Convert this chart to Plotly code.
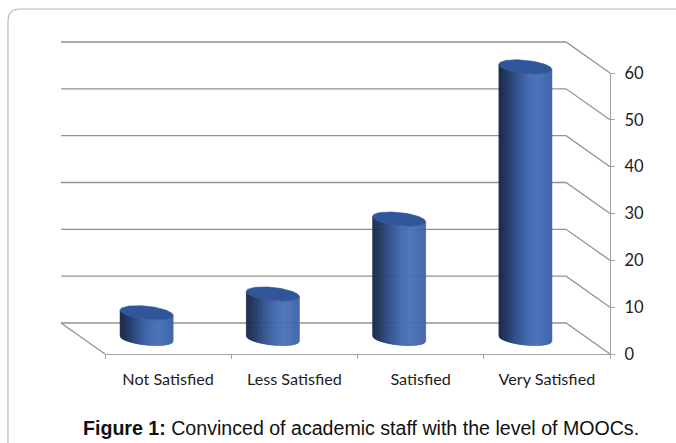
import math
import plotly.graph_objects as go

categories = ["Not Satisfied", "Less Satisfied", "Satisfied", "Very Satisfied"]
values = [5.5, 9.5, 25.5, 58]
y_ticks = [0, 10, 20, 30, 40, 50, 60]

W, H = 676, 443
LEFT, RIGHT, ZERO, TOP = 105, 610, 354, 73   # axis box within the picture
n = len(categories)
PX_X = (RIGHT - LEFT) / n      # pixels per category
PX_Y = (ZERO - TOP) / 60       # pixels per value unit
DEPTH_X = 44 / PX_X
DEPTH_Y = 31 / PX_Y
RX = 26.5 / PX_X
RY = 6.6 / PX_Y
TILT = 2.6 / PX_Y
NUDGE = 0.5 / PX_X
GRID = "#939393"
AXIS = "#a3a3a3"
N_STRIPS = 53

STOPS = [(0.0, (24, 40, 72)), (0.12, (30, 50, 90)), (0.3, (44, 76, 132)),
         (0.55, (66, 105, 176)), (0.72, (74, 114, 186)), (1.0, (62, 100, 168))]


def shade(t):
    for (a, ca), (b, cb) in zip(STOPS, STOPS[1:]):
        if t <= b:
            f = (t - a) / (b - a)
            return "rgb(%d,%d,%d)" % tuple(round(p + (q - p) * f) for p, q in zip(ca, cb))
    return "rgb(%d,%d,%d)" % STOPS[-1][1]


fig = go.Figure()


def line(xs, ys, color=GRID, width=1.3):
    fig.add_trace(go.Scatter(x=xs, y=ys, mode="lines", hoverinfo="skip",
                             line=dict(color=color, width=width), showlegend=False))


# Back wall gridlines and their diagonals to the front axis
for v in y_ticks:
    line([-DEPTH_X, n - DEPTH_X, n], [v + DEPTH_Y, v + DEPTH_Y, v])
line([-DEPTH_X, 0], [DEPTH_Y, 0])


def edge(center, level, u):
    """Front rim of an ellipse at offset u in [-1, 1]."""
    return (center + RX * u,
            level + DEPTH_Y / 2 - TILT * u - RY * math.sqrt(max(0, 1 - u * u)))


for i, (cat, val) in enumerate(zip(categories, values)):
    c = i + 0.5 - DEPTH_X / 2 + NUDGE
    for s in range(N_STRIPS):
        u0 = -1 + 2 * s / N_STRIPS
        u1 = -1 + 2 * (s + 1) / N_STRIPS
        col = shade((s + 0.5) / N_STRIPS)
        us = [u0 + (u1 - u0) * k / 3 for k in range(4)]
        top = [edge(c, val, u) for u in us]
        bot = [edge(c, 0, u) for u in reversed(us)]
        pts = top + bot + top[:1]
        fig.add_trace(go.Scatter(x=[p[0] for p in pts], y=[p[1] for p in pts], mode="lines",
                                 fill="toself", fillcolor=col,
                                 line=dict(color=col, width=0.6), hoverinfo="skip",
                                 showlegend=False, name=cat))
    rim = [math.cos(2 * math.pi * k / 72) for k in range(73)]
    rs = [math.sin(2 * math.pi * k / 72) for k in range(73)]
    fig.add_trace(go.Scatter(
        x=[c + RX * a for a in rim],
        y=[val + DEPTH_Y / 2 - TILT * a + RY * b for a, b in zip(rim, rs)],
        mode="lines", fill="toself", fillcolor="#30569a",
        line=dict(color="#30569a", width=0.6), hoverinfo="skip", showlegend=False, name=cat))

# Transparent trace so the visible axes (x2/y2) get drawn
fig.add_trace(go.Scatter(x=[i + 0.5 for i in range(n)], y=values, xaxis="x2", yaxis="y2",
                         mode="markers", marker=dict(opacity=0), hoverinfo="skip",
                         showlegend=False))

fig.update_layout(
    width=W, height=H, margin=dict(l=0, r=0, t=0, b=0, pad=0, autoexpand=False),
    paper_bgcolor="white", plot_bgcolor="rgba(0,0,0,0)", showlegend=False,
    font=dict(family="Lato", color="#222222", size=15),
    # Full-picture drawing axes sharing the visible axes' scale
    xaxis=dict(domain=[0, 1], range=[-LEFT / PX_X, (W - LEFT) / PX_X], visible=False),
    yaxis=dict(domain=[0, 1], range=[-(H - ZERO) / PX_Y, ZERO / PX_Y], visible=False),
    xaxis2=dict(domain=[LEFT / W, RIGHT / W], range=[0, n], showgrid=False, zeroline=False,
                anchor="y2", tickmode="array", tickvals=[i + 0.5 for i in range(n)],
                ticktext=categories, ticks="", ticklabelstandoff=10, showline=True,
                linecolor=AXIS, linewidth=1.3,
                tickfont=dict(size=16.2, family="Lato", color="#1c1c1c"),
                minor=dict(tickmode="array", tickvals=list(range(n + 1)), ticks="outside",
                           ticklen=4, tickcolor=AXIS, tickwidth=1.2, showgrid=False)),
    yaxis2=dict(domain=[(H - ZERO) / H, (H - TOP) / H], range=[0, 60], showgrid=False,
                zeroline=False, side="right", anchor="x2", tickmode="array",
                tickvals=y_ticks, ticks="outside", ticklen=4, tickcolor=AXIS, tickwidth=1.2,
                ticklabelstandoff=6, showline=True, linecolor=AXIS, linewidth=1.3,
                tickfont=dict(size=16.5, family="Lato", color="#1c1c1c")),
    shapes=[dict(type="path", xref="paper", yref="paper",
                 path=f"M {8/W} 0 L {8/W} {(H-21)/H} Q {8/W} {(H-9)/H} {20/W} {(H-9)/H} L 1 {(H-9)/H}",
                 line=dict(color="#b4b4b4", width=1.1))],
    annotations=[dict(xref="paper", yref="paper", x=360.5 / W, y=(H - 428) / H, showarrow=False,
                      xanchor="center", yanchor="middle",
                      text="<b>Figure 1:</b> Convinced of academic staff with the level of MOOCs.",
                      font=dict(family="Liberation Sans", size=19.6, color="#111111"))],
)

fig.write_html("out.html", config={"displayModeBar": False},
               post_script="document.body.style.margin='0';")
